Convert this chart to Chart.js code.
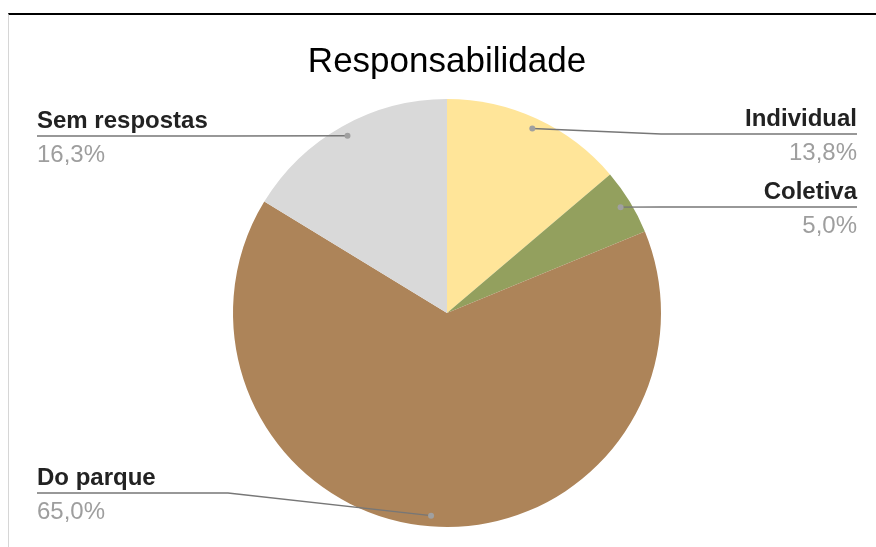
<!DOCTYPE html>
<html>
<head>
<meta charset="utf-8">
<script src="https://cdn.jsdelivr.net/npm/chart.js@4.4.1/dist/chart.umd.min.js"></script>
<style>
  html, body { margin: 0; padding: 0; background: #fff; }
  #wrap { position: relative; width: 876px; height: 547px; overflow: hidden; }
  #frame { position: absolute; left: 8px; top: 13px; right: 0; bottom: 0;
           border-top: 2px solid #000; border-left: 1px solid #d6d6d6; }
  #c { position: absolute; left: 0; top: 0; }
</style>
</head>
<body>
<div id="wrap">
  <div id="frame"></div>
  <canvas id="c" width="876" height="547"></canvas>
</div>
<script>
// Responses to "Responsabilidade", in percent
const categories = ['Individual', 'Coletiva', 'Do parque', 'Sem respostas'];
const values = [13.8, 5.0, 65.0, 16.3];
const valueLabels = ['13,8%', '5,0%', '65,0%', '16,3%'];
const sliceColors = ['#FFE599', '#93A05E', '#AD8459', '#D9D9D9'];

const FONT = "'Liberation Sans', Arial, sans-serif";

// Where each outside label sits: which side, and the y of its underline
const labelPlacement = [
  { side: 'right', lineY: 134 },
  { side: 'right', lineY: 207 },
  { side: 'left',  lineY: 493 },
  { side: 'left',  lineY: 136 }
];

const calloutPlugin = {
  id: 'callouts',
  afterDatasetsDraw(chart, args, opts) {
    const ctx = chart.ctx;
    const meta = chart.getDatasetMeta(0);
    const leftX = opts.leftX, rightX = opts.rightX;
    ctx.save();
    meta.data.forEach((arc, i) => {
      const p = arc.getProps(['x', 'y', 'startAngle', 'endAngle', 'outerRadius'], true);
      const mid = (p.startAngle + p.endAngle) / 2;
      const r = p.outerRadius * 0.95;
      const dx = p.x + Math.cos(mid) * r;
      const dy = p.y + Math.sin(mid) * r;
      const place = labelPlacement[i];
      const right = place.side === 'right';
      const endX = right ? rightX : leftX;
      const ly = place.lineY;
      // the leader bends where it leaves the pie's bounding box
      const elbowX = right ? Math.max(dx, p.x + p.outerRadius) : Math.min(dx, p.x - p.outerRadius - 5);

      ctx.strokeStyle = '#777777';
      ctx.lineWidth = 1.4;
      ctx.beginPath();
      ctx.moveTo(dx, dy);
      ctx.lineTo(elbowX, ly);
      ctx.lineTo(endX, ly);
      ctx.stroke();

      // dot on the slice
      ctx.fillStyle = '#a0a0a0';
      ctx.beginPath();
      ctx.arc(dx, dy, 3, 0, Math.PI * 2);
      ctx.fill();

      // category name and value
      ctx.textAlign = right ? 'right' : 'left';
      ctx.textBaseline = 'alphabetic';
      ctx.font = 'bold 24px ' + FONT;
      ctx.fillStyle = '#222222';
      ctx.fillText(chart.data.labels[i], endX, ly - 8);
      ctx.font = '24px ' + FONT;
      ctx.fillStyle = '#9e9e9e';
      ctx.fillText(valueLabels[i], endX, ly + 26);
    });
    ctx.restore();
  }
};

new Chart(document.getElementById('c'), {
  type: 'pie',
  data: {
    labels: categories,
    datasets: [{
      data: values,
      backgroundColor: sliceColors,
      borderWidth: 0
    }]
  },
  options: {
    responsive: false,
    devicePixelRatio: 1,
    animation: false,
    layout: { padding: { top: 0, left: 18, right: 0, bottom: 20 } },
    plugins: {
      legend: { display: false },
      tooltip: { enabled: false },
      title: {
        display: true,
        text: 'Responsabilidade',
        color: '#000000',
        font: { family: FONT, size: 35, weight: 'normal', lineHeight: '40px' },
        padding: { top: 42, bottom: 17 }
      },
      callouts: { leftX: 37, rightX: 857 }
    }
  },
  plugins: [calloutPlugin]
});
</script>
</body>
</html>
